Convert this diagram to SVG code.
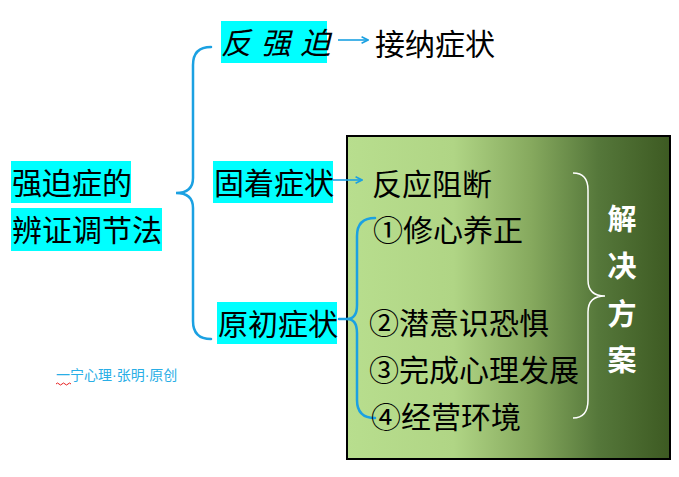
<svg xmlns="http://www.w3.org/2000/svg" width="679" height="477" viewBox="0 0 679 477">
<style>
.t{font-family:"Noto Sans CJK SC","Noto Sans",sans-serif;font-size:30px;fill:#000}
.hl{fill:#00ffff}
.br{fill:none;stroke:#1ba1e2;stroke-width:2.5;stroke-linecap:round}
.ar{fill:none;stroke:#1ba1e2;stroke-width:1.6}
.w{font-family:"Noto Sans CJK SC","Noto Sans",sans-serif;font-size:29px;font-weight:bold;fill:#fff;text-anchor:middle}
.dot{font-family:"Liberation Sans",sans-serif}
</style>
<defs>
<linearGradient id="g" x1="0" y1="0" x2="1" y2="0">
<stop offset="0" stop-color="#b8de8e"/>
<stop offset="0.33" stop-color="#b0d585"/>
<stop offset="0.57" stop-color="#86a95e"/>
<stop offset="0.78" stop-color="#55773a"/>
<stop offset="1" stop-color="#3d5a22"/>
</linearGradient>
<marker id="ah" viewBox="0 0 10 10" refX="9" refY="5" markerWidth="8" markerHeight="8" markerUnits="userSpaceOnUse" orient="auto">
<path d="M1,1 L9,5 L1,9" fill="none" stroke="#1ba1e2" stroke-width="2"/>
</marker>
</defs>
<rect width="679" height="477" fill="#fff"/>
<g id="panel">
<rect x="347" y="136" width="323" height="323" fill="url(#g)" stroke="#000" stroke-width="2"/>
</g>
<g id="connectors">
<path class="br" d="M211,47 Q193,47 193,65 L193,178 Q193,193 176,193 Q193,193 193,208 L193,321 Q193,339 211,339"/>
<line class="ar" x1="338" y1="40" x2="368" y2="40" marker-end="url(#ah)"/>
<line class="ar" x1="333" y1="180" x2="362" y2="180" marker-end="url(#ah)"/>
<line class="br" x1="339" y1="319" x2="347" y2="319"/>
<path class="br" d="M375,218 Q357,218 357,236 L357,305 Q357,319 347,319 Q357,319 357,333 L357,400 Q357,418 375,418"/>
<path d="M573,173 Q588,173 588,190 L588,280 Q588,296 605,296 Q588,296 588,312 L588,400 Q588,418 573,418" fill="none" stroke="#fff" stroke-width="1.5"/>
</g>
<g id="root">
<rect class="hl" x="11" y="161" width="120" height="42"/>
<rect class="hl" x="11" y="208" width="151" height="43"/>
<text class="t" x="12" y="193.5">强迫症的</text>
<text class="t" x="12" y="240.5">辨证调节法</text>
</g>
<g id="anti">
<rect class="hl" x="221" y="21" width="106" height="42"/>
<text class="t" x="221" y="53.5" font-style="italic" word-spacing="3">反 强 迫</text>
</g>
<g id="accept">
<text class="t" x="375" y="55">接纳症状</text>
</g>
<g id="fixed">
<rect class="hl" x="213" y="161" width="120" height="42"/>
<text class="t" x="214" y="193.5">固着症状</text>
</g>
<g id="original">
<rect class="hl" x="217" y="302" width="120" height="42"/>
<text class="t" x="218" y="334.5">原初症状</text>
</g>
<g id="block">
<text class="t" x="372" y="194.5">反应阻断</text>
</g>
<g id="s1"><text class="t" x="373" y="240.5">①修心养正</text></g>
<g id="s2"><text class="t" x="369" y="333.5">②潜意识恐惧</text></g>
<g id="s3"><text class="t" x="369" y="380.5">③完成心理发展</text></g>
<g id="s4"><text class="t" x="371" y="428">④经营环境</text></g>
<g id="solution">
<text class="w" x="622" y="230">解</text>
<text class="w" x="622" y="277">决</text>
<text class="w" x="622" y="325">方</text>
<text class="w" x="622" y="371">案</text>
</g>
<g id="footer">
<text x="56" y="380" font-family="'Noto Sans CJK SC','Noto Sans',sans-serif" font-size="14" fill="#29aee6">一宁心理<tspan class="dot">·</tspan>张明<tspan class="dot">·</tspan>原创</text>
<path d="M56,384 q1.5,-2 3,0 t3,0 t3,0 t3,0 t3,0" fill="none" stroke="#e82020" stroke-width="1"/>
</g>
</svg>
